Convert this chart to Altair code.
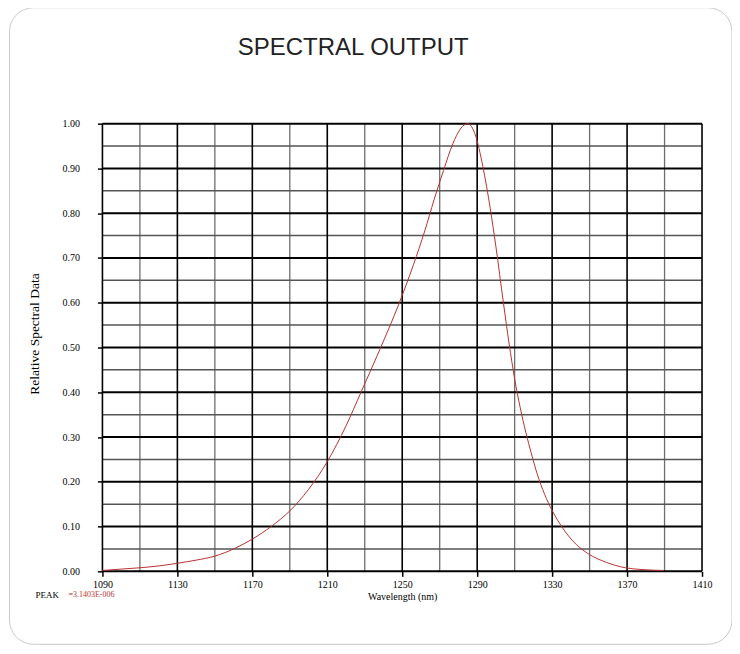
import altair as alt
import pandas as pd

# ---- data ----
wavelength = [1090, 1100, 1110, 1120, 1130, 1140, 1150, 1160, 1170, 1180, 1190,
              1200, 1210, 1220, 1228, 1238, 1248, 1256, 1262, 1267, 1272, 1277,
              1281, 1285, 1289, 1293, 1297, 1300, 1304, 1307, 1310, 1313, 1316,
              1319, 1322, 1326, 1330, 1334, 1341, 1349, 1359, 1369, 1378, 1389]
relative = [0.002, 0.005, 0.008, 0.012, 0.018, 0.025, 0.034, 0.050, 0.072, 0.100,
            0.135, 0.183, 0.245, 0.325, 0.400, 0.495, 0.595, 0.685, 0.760, 0.830,
            0.895, 0.955, 0.988, 1.000, 0.975, 0.905, 0.810, 0.725, 0.600, 0.510,
            0.430, 0.365, 0.310, 0.262, 0.218, 0.172, 0.136, 0.107, 0.068, 0.040,
            0.020, 0.008, 0.004, 0.002]

x_major = [1090, 1130, 1170, 1210, 1250, 1290, 1330, 1370, 1410]
x_minor = [1110, 1150, 1190, 1230, 1270, 1310, 1350, 1390]
y_major = [0.0, 0.1, 0.2, 0.3, 0.4, 0.5, 0.6, 0.7, 0.8, 0.9, 1.0]
y_minor = [0.05, 0.15, 0.25, 0.35, 0.45, 0.55, 0.65, 0.75, 0.85, 0.95]

title_text = "SPECTRAL OUTPUT"
x_title = "Wavelength (nm)"
y_title = "Relative Spectral Data"
peak_label = "PEAK"
peak_value = "=3.1403E-006"

SERIF = "Liberation Serif"

curve = pd.DataFrame({"wl": wavelength, "v": relative})

x_enc = alt.X(
    "wl:Q",
    scale=alt.Scale(domain=[1090, 1410], nice=False, zero=False),
    axis=alt.Axis(
        values=x_major, format="d", grid=False, domain=False, zindex=2,
        tickSize=5, tickColor="black", tickWidth=1.5, labelFlush=False,
        labelFont=SERIF, labelFontSize=10, labelColor="black", labelPadding=3,
        title=x_title, titleFont=SERIF, titleFontSize=10, titleFontWeight="normal",
        titleColor="black", titleY=25, titleBaseline="middle",
    ),
)
y_enc = alt.Y(
    "v:Q",
    scale=alt.Scale(domain=[0, 1], nice=False),
    axis=alt.Axis(
        values=y_major, format=".2f", grid=False, domain=False, zindex=2,
        tickSize=5, tickColor="black", tickWidth=1.5, labelFlush=False,
        labelFont=SERIF, labelFontSize=10, labelColor="black", labelPadding=18,
        title=y_title, titleFont=SERIF, titleFontSize=13.5, titleFontWeight="normal",
        titleColor="black", titleAngle=270, titleX=-68, titleY=210,
        titleAlign="center", titleBaseline="middle",
    ),
)

card = alt.Chart(pd.DataFrame({"k": [0]})).mark_rect(
    cornerRadius=24, fill="white", stroke="#c9c9c9", strokeWidth=1, clip=False
).encode(x=alt.value(-93), x2=alt.value(630), y=alt.value(-116), y2=alt.value(521))

title = alt.Chart(pd.DataFrame({"t": [title_text]})).mark_text(
    font="Liberation Sans", fontSize=24, color="#222222", align="center",
    baseline="middle", clip=False
).encode(text="t:N", x=alt.value(251), y=alt.value(-76))

vminor = alt.Chart(pd.DataFrame({"wl": x_minor})).mark_rule(
    color="#6e6e6e", strokeWidth=1.3).encode(x=x_enc)
hminor = alt.Chart(pd.DataFrame({"v": y_minor})).mark_rule(
    color="#555555", strokeWidth=1.5).encode(y=y_enc)
vmajor = alt.Chart(pd.DataFrame({"wl": x_major})).mark_rule(
    color="black", strokeWidth=1.6).encode(x=x_enc)
hmajor = alt.Chart(pd.DataFrame({"v": y_major})).mark_rule(
    color="black", strokeWidth=2).encode(y=y_enc)

line = alt.Chart(curve).mark_line(
    color="#b83232", strokeWidth=1, interpolate="monotone").encode(x=x_enc, y=y_enc)

peak_lbl = alt.Chart(pd.DataFrame({"t": [peak_label]})).mark_text(
    font=SERIF, fontSize=9, color="black", align="left", baseline="middle", clip=False
).encode(text="t:N", x=alt.value(-67), y=alt.value(471.5))
peak_val = alt.Chart(pd.DataFrame({"t": [peak_value]})).mark_text(
    font=SERIF, fontSize=8, color="#b83232", align="left", baseline="middle", clip=False
).encode(text="t:N", x=alt.value(-34), y=alt.value(471.5))

chart = alt.layer(
    card, title, vminor, hminor, vmajor, hmajor, line, peak_lbl, peak_val
).properties(
    width=600, height=448,
    autosize=alt.AutoSizeParams(type="none"),
    padding={"left": 94.5, "top": 115.5, "right": 30, "bottom": 80},
).configure_view(stroke=None).configure(background="white")

chart.save("out.html", embed_options={"renderer": "svg", "actions": False})
